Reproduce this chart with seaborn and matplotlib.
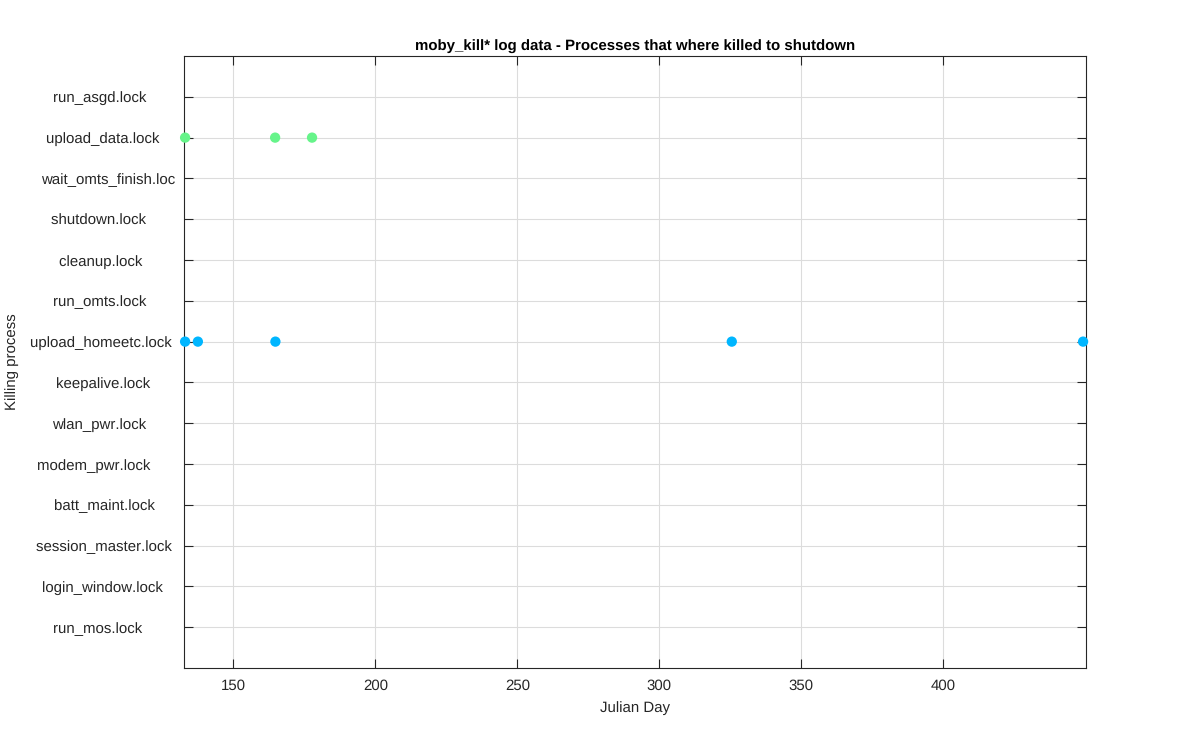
import numpy as np
import pandas as pd
import matplotlib
matplotlib.use("Agg")
import matplotlib.pyplot as plt
import seaborn as sns

# Categories from bottom (1) to top (14)
categories = ["run_mos.lock", "login_window.lock", "session_master.lock",
              "batt_maint.lock", "modem_pwr.lock", "wlan_pwr.lock",
              "keepalive.lock", "upload_homeetc.lock", "run_omts.lock",
              "cleanup.lock", "shutdown.lock", "wait_omts_finish.lock",
              "upload_data.lock", "run_asgd.lock"]

upload_data_days = [133.0, 164.7, 177.7]
upload_homeetc_days = [133.0, 137.5, 164.8, 325.5, 449.2]

xticks = [150, 200, 250, 300, 350, 400]

sns.set_style("white")
plt.rcParams['font.family'] = ['Liberation Sans', 'DejaVu Sans']
plt.rcParams['text.hinting'] = 'no_hinting'
plt.rcParams['text.hinting_factor'] = 1

df = pd.DataFrame({
    "day": upload_data_days + upload_homeetc_days,
    "proc": ["upload_data.lock"] * len(upload_data_days)
            + ["upload_homeetc.lock"] * len(upload_homeetc_days),
})
df["y"] = df["proc"].map({c: i + 1 for i, c in enumerate(categories)})

fig = plt.figure(figsize=(12, 7.5), dpi=100)
ax = fig.add_axes([0.1533, 0.1093, 0.752, 0.816])

palette = {"upload_data.lock": "#66F48A", "upload_homeetc.lock": "#00B6FF"}
sns.scatterplot(data=df, x="day", y="y", hue="proc", palette=palette,
                s=55, edgecolor="none", legend=False, ax=ax, zorder=3,
                clip_on=False)

ax.set_xlim(132.6, 450.35)
ax.set_ylim(0, 15)
ax.set_xticks(xticks)
ax.set_xticklabels([str(t) for t in xticks])
ax.set_yticks(range(1, len(categories) + 1))
# MATLAB char-array labels: padded/truncated to 20 chars
labels = [(c[:20]).ljust(20) for c in categories]
ax.set_yticklabels(labels)

ax.grid(True, color="#dcdcdc", linewidth=0.8)
ax.set_axisbelow(True)
ax.tick_params(axis="both", direction="in", length=6.5, width=0.8,
               top=True, right=True, left=True, bottom=True,
               labelsize=10.7, colors="#262626", labelcolor="#262626")
ax.tick_params(axis="y", pad=6)
ax.tick_params(axis="x", pad=8)
for sp in ax.spines.values():
    sp.set_color("#262626")
    sp.set_linewidth(0.8)
    sp.set_visible(True)

ax.set_xlabel("Julian Day", fontsize=10.7, color="#262626", labelpad=6)
ax.set_ylabel("Killing process", fontsize=10.7, color="#262626")
ax.yaxis.set_label_coords(-0.183, 0.5)
ax.set_title("moby_kill* log data - Processes that where killed to shutdown",
             fontsize=10.8, fontweight="bold", color="black", pad=4)

fig.savefig("out.png", dpi=100, facecolor="white")
